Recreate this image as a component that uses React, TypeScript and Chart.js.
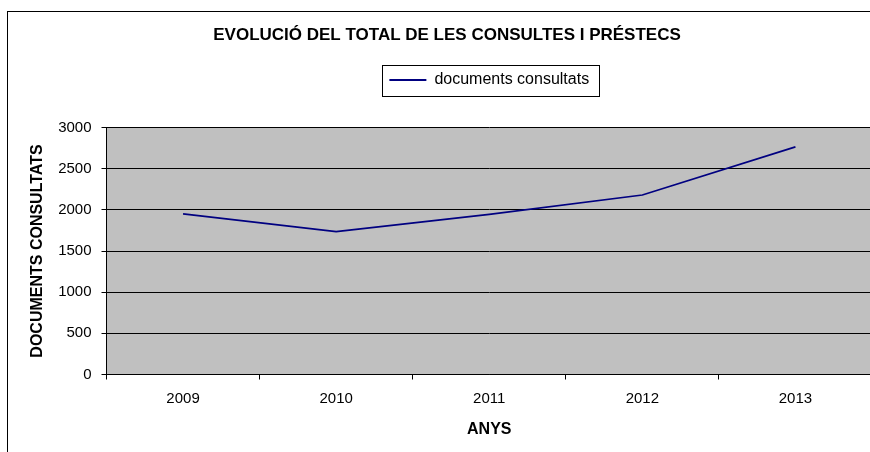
import { useEffect, useRef } from "react";
import { Chart, registerables } from "chart.js";

Chart.register(...registerables);

const YEARS = ["2009", "2010", "2011", "2012", "2013"];
const DOCUMENTS_CONSULTATS = [1950, 1735, 1945, 2180, 2765];
const Y_TICKS = [0, 500, 1000, 1500, 2000, 2500, 3000];
const SERIES_LABEL = "documents consultats";
const TITLE = "EVOLUCIÓ DEL TOTAL DE LES CONSULTES I PRÉSTECS";
const X_TITLE = "ANYS";
const Y_TITLE = "DOCUMENTS CONSULTATS";

const FONT = "Arial, 'Liberation Sans', sans-serif";
const W = 900;
const H = 452;
const LINE_COLOR = "#000080";

export default function App() {
  const ref = useRef<HTMLCanvasElement>(null);

  useEffect(() => {
    const canvas = ref.current;
    if (!canvas) return;
    Chart.defaults.font.family = FONT;
    Chart.defaults.color = "#000";

    const framePlugin = {
      id: "framePlugin",
      beforeDraw(chart: any) {
        const { ctx, chartArea: a } = chart;
        ctx.save();
        ctx.fillStyle = "#fff";
        ctx.fillRect(0, 0, chart.width, chart.height);
        ctx.strokeStyle = "#000";
        ctx.lineWidth = 1;
        ctx.strokeRect(7.5, 11.5, chart.width + 40, chart.height + 40);
        ctx.fillStyle = "#c0c0c0";
        ctx.fillRect(a.left, a.top, a.right - a.left, a.bottom - a.top);
        ctx.restore();
      },
      afterDraw(chart: any) {
        const hb = chart.legend && chart.legend.legendHitBoxes && chart.legend.legendHitBoxes[0];
        if (!hb) return;
        const { ctx } = chart;
        ctx.save();
        ctx.strokeStyle = "#000";
        ctx.lineWidth = 1;
        const x = Math.round(hb.left - 7) + 0.5;
        const y = Math.round(hb.top + hb.height / 2 - 15) + 0.5;
        ctx.strokeRect(x, y, Math.round(hb.width + 17), 31);
        ctx.restore();
      },
    };

    const chart = new Chart(canvas, {
      type: "line",
      data: {
        labels: YEARS,
        datasets: [
          {
            label: SERIES_LABEL,
            data: DOCUMENTS_CONSULTATS,
            borderColor: LINE_COLOR,
            backgroundColor: LINE_COLOR,
            borderWidth: 1.75,
            pointRadius: 0,
            pointHoverRadius: 0,
            fill: false,
            tension: 0,
          },
        ],
      },
      options: {
        responsive: false,
        animation: false,
        devicePixelRatio: 1,
        events: [],
        layout: { padding: { left: 22, right: 28, top: 0, bottom: 0 } },
        plugins: {
          title: {
            display: true,
            text: TITLE,
            color: "#000",
            font: { family: FONT, size: 17, weight: "bold" },
            padding: { top: 24.8, bottom: 16.8 },
          },
          subtitle: {
            display: true,
            text: "",
            weight: 500,
            font: { family: FONT, size: 10 },
            padding: { top: 0, bottom: 17.5 },
          },
          legend: {
            display: true,
            position: "top",
            fullSize: false,
            labels: {
              boxWidth: 37,
              boxHeight: 2,
              padding: 10,
              color: "#000",
              font: { family: FONT, size: 16 },
              generateLabels: () => [
                {
                  text: SERIES_LABEL,
                  fillStyle: LINE_COLOR,
                  strokeStyle: LINE_COLOR,
                  lineWidth: 0,
                  datasetIndex: 0,
                  hidden: false,
                },
              ],
            },
          },
          tooltip: { enabled: false },
        },
        scales: {
          x: {
            type: "category",
            offset: true,
            grid: {
              display: true,
              drawOnChartArea: false,
              drawTicks: true,
              tickLength: 5,
              offset: true,
              color: "#000",
            },
            border: { display: true, color: "#000" },
            ticks: {
              color: "#000",
              font: { family: FONT, size: 15 },
              padding: 10,
              maxRotation: 0,
              autoSkip: false,
            },
            title: {
              display: true,
              text: X_TITLE,
              color: "#000",
              font: { family: FONT, size: 16, weight: "bold" },
              padding: { top: 3, bottom: 12.4 },
            },
            afterFit: (s: any) => {
              s.height = 77.5;
            },
          },
          y: {
            min: 0,
            max: 3000,
            grid: { color: "#000", tickLength: 5, drawTicks: true },
            border: { display: true, color: "#000" },
            ticks: {
              color: "#000",
              font: { family: FONT, size: 15 },
              padding: 10,
              callback: (v: any) => String(v),
            },
            afterBuildTicks: (s: any) => {
              s.ticks = Y_TICKS.map((v) => ({ value: v }));
            },
            title: {
              display: true,
              text: Y_TITLE,
              color: "#000",
              font: { family: FONT, size: 16, weight: "bold" },
              padding: { top: 6.4, bottom: 0 },
            },
            afterFit: (s: any) => {
              s.width = 84.5;
            },
          },
        },
      } as any,
      plugins: [framePlugin],
    });

    return () => {
      chart.destroy();
    };
  }, []);

  return (
    <div
      style={{
        position: "absolute",
        left: 0,
        top: 0,
        width: 870,
        height: 452,
        overflow: "hidden",
        background: "#fff",
      }}
    >
      <canvas
        ref={ref}
        width={W}
        height={H}
        style={{ display: "block", width: W, height: H }}
      />
    </div>
  );
}
